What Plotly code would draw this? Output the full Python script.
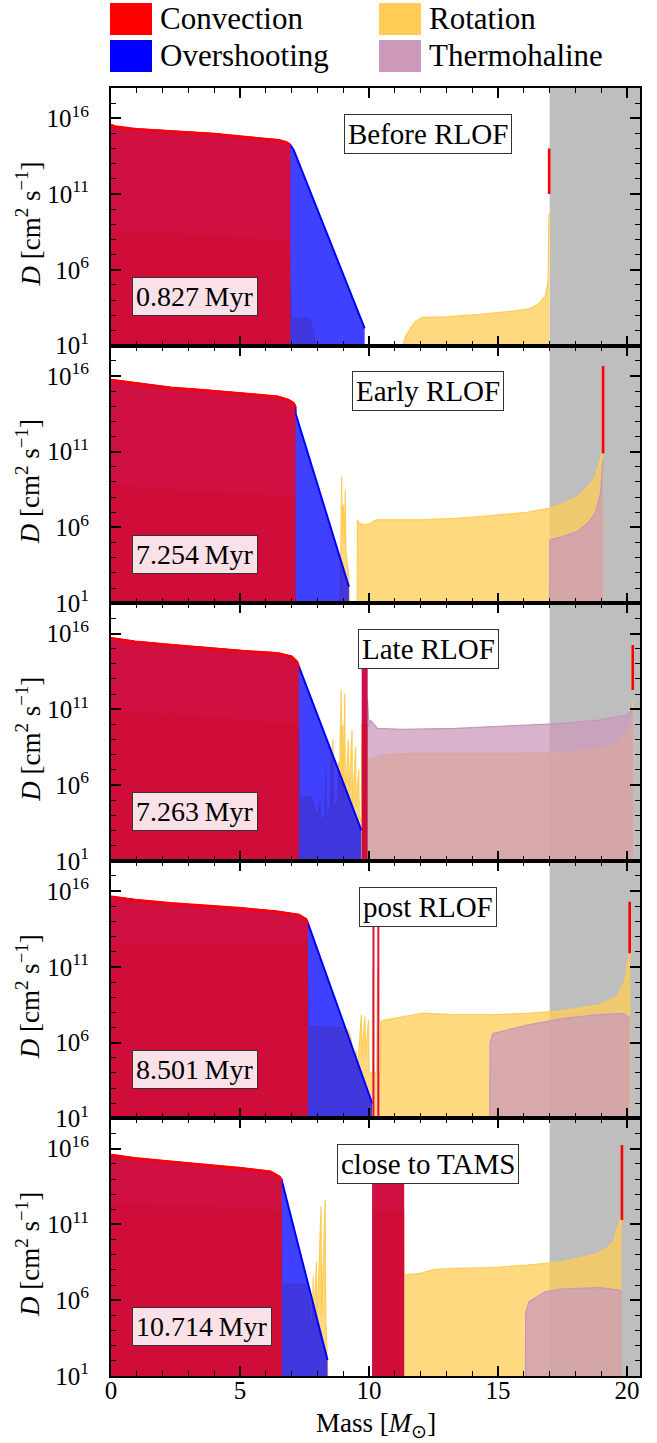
import plotly.graph_objects as go
from plotly.subplots import make_subplots

FONT = "Liberation Serif"

# ---------------- data (log10 D in cm^2/s vs mass coordinate in Msun) ----------------
TITLES = ["Before RLOF", "Early RLOF", "Late RLOF", "post RLOF", "close to TAMS"]
AGES = ["0.827", "7.254", "7.263", "8.501", "10.714"]
GRAY_START = 17.0
X_MAX = 20.5

# Panel 1 -------------------------------------------------------------
P1_CORE_M = [0, 0.15, 1, 2, 3, 4, 5, 6, 6.5, 6.8, 6.95]
P1_CORE_LOGD = [15.56, 15.45, 15.27, 15.18, 15.07, 14.96, 14.79, 14.65, 14.55, 14.41, 14.24]
P1_SHELL_M = []
P1_SHELL_LOGD = []
P1_OVS_TAIL_M = [7.08, 9.83]
P1_OVS_TAIL_LOGD = [13.91, 2.14]
P1_ROT_M = [0, 3.5, 6.9, 7.0, 7.08, 7.6, 7.75, 7.85, 7.92, None,
            11.32, 11.41, 11.6, 11.79, 12.05, 13.0, 14.3, 15.6, 16.25, 16.6, 16.85, 16.94, 16.97, 16.99]
P1_ROT_LOGD = [8.52, 8.36, 7.85, 2.8, 2.8, 2.8, 2.6, 1.8, 1.0, None,
               1.1, 1.59, 2.14, 2.58, 2.86, 2.9, 3.06, 3.28, 3.45, 3.8, 4.34, 5.33, 9.7, 9.7]
P1_THM_M = []
P1_THM_LOGD = []
P1_THIN_M = []
P1_THIN_LOGD = []
P1_SURF = [16.98, 11.0, 14.0]

# Panel 2 -------------------------------------------------------------
P2_CORE_M = [0, 0.93, 2.3, 3.7, 5.07, 6.45, 6.87, 7.08, 7.15]
P2_CORE_LOGD = [15.73, 15.51, 15.22, 15.03, 14.85, 14.63, 14.41, 14.19, 13.93]
P2_SHELL_M = []
P2_SHELL_LOGD = []
P2_OVS_TAIL_M = [7.16, 9.22]
P2_OVS_TAIL_LOGD = [13.49, 2.09]
P2_ROT_M = [0, 3.7, 7.14, 7.16, None,
            8.88, 8.92, 8.94, 8.96, 9.0, 9.04, 9.08, 9.1, 9.14, 9.2, 9.25, None,
            9.54, 9.55, 9.6, 9.7, 9.8, 9.9, 10.05, 10.2, 10.3, 12.0, 13.37, 14.75, 16.13,
            16.96, 17.5, 18.06, 18.48, 18.76, 18.97, 19.03, 19.07]
P2_ROT_LOGD = [8.8, 8.36, 8.03, 1.0, None,
               1.0, 5.0, 9.35, 5.5, 7.5, 5.0, 8.5, 4.5, 4.0, 3.0, 1.0, None,
               1.0, 6.5, 6.3, 6.2, 6.15, 6.2, 6.25, 6.45, 6.5, 6.5, 6.6, 6.78, 7.0,
               7.26, 7.55, 8.0, 8.66, 9.32, 10.42, 10.86, 11.2]
P2_THM_M = [17.0, 17.01, 17.5, 18.06, 18.48, 18.76, 18.97, 19.06]
P2_THM_LOGD = [1.0, 5.17, 5.39, 5.72, 6.27, 6.93, 8.25, 10.4]
P2_THIN_M = []
P2_THIN_LOGD = []
P2_SURF = [19.07, 10.9, 16.65]

# Panel 3 -------------------------------------------------------------
P3_CORE_M = [0, 0.93, 2.3, 3.7, 5.07, 6.45, 7.0, 7.2, 7.28]
P3_CORE_LOGD = [15.68, 15.46, 15.24, 15.02, 14.84, 14.69, 14.47, 14.14, 13.81]
P3_SHELL_M = [9.72, 9.74, 9.8, 9.88, 9.94]
P3_SHELL_LOGD = [14.69, 14.5, 14.36, 14.3, 14.25]
P3_OVS_TAIL_M = [7.31, 9.7]
P3_OVS_TAIL_LOGD = [13.7, 3.03]
P3_ROT_M = [0, 3.7, 7.0, 7.28, 7.31, 7.7, 7.8, 7.9, 8.0, 8.1, 8.12, 8.3, 8.32, 8.34,
            8.5, 8.52, 8.54, 8.6, 8.62, 8.8, 8.82, 8.84, 8.92, 8.94, 8.98, 9.0, 9.06, 9.08,
            9.2, 9.22, 9.34, 9.36, 9.48, 9.5, 9.6, 9.62, 9.7, 9.72, 9.93, 9.94, 10.5, 11.5,
            13.5, 16.0, 18.0, 19.5, 20.1, 20.2, 20.23]
P3_ROT_LOGD = [10.95, 10.5, 10.07, 10.0, 5.23, 5.2, 5.0, 4.4, 3.8, 5.0, 3.5, 4.0, 7.0, 4.0,
               4.5, 8.5, 4.5, 9.0, 4.5, 5.0, 7.5, 5.0, 12.27, 5.0, 10.0, 5.0, 12.05, 5.0,
               9.0, 5.0, 9.63, 4.5, 8.53, 4.5, 7.0, 4.0, 3.5, 10.0, 10.0, 7.65, 7.98, 8.09,
               8.09, 8.09, 8.2, 8.53, 9.63, 10.73, 11.5]
P3_THM_M = [9.94, 9.96, 10.0, 10.05, 10.33, 11.3, 13.37, 16.13, 17.5, 18.9, 20.0, 20.2, 20.23]
P3_THM_LOGD = [11.61, 10.5, 9.85, 10.29, 9.74, 9.67, 9.74, 9.96, 10.07, 10.29, 10.62, 10.95, 11.0]
P3_THIN_M = []
P3_THIN_LOGD = []
P3_SURF = [20.22, 12.27, 15.24]

# Panel 4 -------------------------------------------------------------
P4_CORE_M = [0, 0.93, 2.3, 3.7, 5.07, 6.45, 7.28, 7.56, 7.63]
P4_CORE_LOGD = [15.63, 15.41, 15.19, 15.02, 14.86, 14.64, 14.42, 14.14, 13.88]
P4_SHELL_M = []
P4_SHELL_LOGD = []
P4_OVS_TAIL_M = [7.66, 10.12]
P4_OVS_TAIL_LOGD = [13.76, 2.0]
P4_ROT_M = [0, 3.7, 7.6, 7.66, 9.0, 9.2, 9.3, 9.38, 9.42, 9.5, 9.55, 9.7, 9.72, 9.84, 9.86,
            9.98, 10.0, 10.14, 10.16, 10.18, 10.3, 10.33, 10.35, 10.44, 10.46, 10.6, 11.9,
            12.1, 13.37, 14.75, 16.13, 17.5, 18.9, 19.6, 19.93, 20.07, 20.13]
P4_ROT_LOGD = [12.44, 12.5, 12.55, 7.05, 7.0, 6.8, 6.3, 5.0, 3.5, 5.5, 4.0, 7.82, 5.0, 7.71, 5.0,
               7.5, 4.0, 4.0, 11.0, 4.0, 4.0, 10.8, 4.0, 4.0, 7.38, 7.49, 7.9,
               7.95, 7.84, 7.84, 7.93, 8.1, 8.48, 9.03, 10.13, 11.89, 12.5]
P4_THM_M = [14.68, 14.69, 14.8, 16.13, 17.5, 18.9, 19.86, 20.07, 20.1]
P4_THM_LOGD = [1.0, 5.95, 6.6, 7.15, 7.59, 7.85, 7.92, 7.7, 7.5]
P4_THIN_M = [10.17, 10.36]
P4_THIN_LOGD = [14.43, 14.14]
P4_SURF = [20.1, 11.9, 15.3]

# Panel 5 -------------------------------------------------------------
P5_CORE_M = [0, 0.93, 2.3, 3.7, 5.07, 6.18, 6.52, 6.62]
P5_CORE_LOGD = [15.58, 15.36, 15.14, 14.92, 14.7, 14.48, 14.15, 13.93]
P5_SHELL_M = [10.12, 10.6, 11.15, 11.3, 11.36]
P5_SHELL_LOGD = [14.81, 14.7, 14.59, 14.37, 13.93]
P5_OVS_TAIL_M = [6.63, 8.39]
P5_OVS_TAIL_LOGD = [13.82, 2.05]
P5_ROT_M = [0, 3.7, 6.6, 6.63, 7.5, 7.6, 7.7, 7.75, 7.8, 7.84, 7.86, 7.96, 7.98, 8.14, 8.16,
            8.28, 8.3, 8.32, 8.4, None,
            10.12, 11.35, 11.36, 11.98, 12.54, 13.37, 14.75, 16.13, 17.5, 18.9, 19.45, 19.72, 19.79]
P5_ROT_LOGD = [12.4, 12.2, 11.95, 7.07, 7.07, 6.8, 5.5, 4.0, 4.0, 7.56, 4.0, 8.5, 4.0, 12.18, 5.0,
               12.62, 12.62, 5.0, 1.0, None,
               11.95, 11.95, 7.66, 7.77, 8.03, 8.1, 8.16, 8.32, 8.54, 9.09, 9.75, 11.29, 11.5]
P5_THM_M = [16.06, 16.07, 16.2, 16.82, 17.5, 18.9, 19.72, 19.8]
P5_THM_LOGD = [1.0, 5.13, 5.9, 6.56, 6.74, 6.83, 6.67, 6.5]
P5_THIN_M = []
P5_THIN_LOGD = []
P5_SURF = [19.8, 11.3, 16.24]

# ---------------- styling ----------------
C_CONV, C_OVS, C_ROT, C_THM = "#FF0000", "#0000FF", "#FFCC55", "#CC99BB"
F_CONV = "rgba(255,0,0,0.75)"
F_OVS = "rgba(0,0,255,0.75)"
F_ROT = "rgba(255,204,85,0.75)"
F_THM = "rgba(204,153,187,0.75)"
GRAY = "#BEBEBE"

panels = [
    (P1_CORE_M, P1_CORE_LOGD, P1_SHELL_M, P1_SHELL_LOGD, P1_OVS_TAIL_M, P1_OVS_TAIL_LOGD,
     P1_ROT_M, P1_ROT_LOGD, P1_THM_M, P1_THM_LOGD, P1_THIN_M, P1_THIN_LOGD, P1_SURF),
    (P2_CORE_M, P2_CORE_LOGD, P2_SHELL_M, P2_SHELL_LOGD, P2_OVS_TAIL_M, P2_OVS_TAIL_LOGD,
     P2_ROT_M, P2_ROT_LOGD, P2_THM_M, P2_THM_LOGD, P2_THIN_M, P2_THIN_LOGD, P2_SURF),
    (P3_CORE_M, P3_CORE_LOGD, P3_SHELL_M, P3_SHELL_LOGD, P3_OVS_TAIL_M, P3_OVS_TAIL_LOGD,
     P3_ROT_M, P3_ROT_LOGD, P3_THM_M, P3_THM_LOGD, P3_THIN_M, P3_THIN_LOGD, P3_SURF),
    (P4_CORE_M, P4_CORE_LOGD, P4_SHELL_M, P4_SHELL_LOGD, P4_OVS_TAIL_M, P4_OVS_TAIL_LOGD,
     P4_ROT_M, P4_ROT_LOGD, P4_THM_M, P4_THM_LOGD, P4_THIN_M, P4_THIN_LOGD, P4_SURF),
    (P5_CORE_M, P5_CORE_LOGD, P5_SHELL_M, P5_SHELL_LOGD, P5_OVS_TAIL_M, P5_OVS_TAIL_LOGD,
     P5_ROT_M, P5_ROT_LOGD, P5_THM_M, P5_THM_LOGD, P5_THIN_M, P5_THIN_LOGD, P5_SURF),
]

fig = make_subplots(rows=5, cols=1, shared_xaxes=True, vertical_spacing=0)

W, H = 657, 1443
ML, MR, MT, MB = 111, 17, 88, 67
pw, ph = W - ML - MR, H - MT - MB


def px(x):
    return (x - ML) / pw


def py(y):
    return (H - MB - y) / ph


def segments(m, logd):
    segs, xs, ys = [], [], []
    for a, b in zip(m, logd):
        if a is None:
            if xs:
                segs.append((xs, ys))
            xs, ys = [], []
        else:
            xs.append(a)
            ys.append(10 ** b)
    if xs:
        segs.append((xs, ys))
    return segs


def add_area(row, m, logd, fill, line, width):
    for xs, ys in segments(m, logd):
        fig.add_trace(go.Scatter(x=xs, y=ys, mode="lines", fill="tozeroy", fillcolor=fill,
                                 line=dict(color=line, width=width), showlegend=False,
                                 hoverinfo="skip"), row=row, col=1)


def add_vline(row, m, lo, hi, color, width):
    fig.add_trace(go.Scatter(x=[m, m], y=[10 ** lo, 10 ** hi], mode="lines",
                             line=dict(color=color, width=width), showlegend=False,
                             hoverinfo="skip"), row=row, col=1)


for i, p in enumerate(panels):
    row = i + 1
    core_m, core_d, sh_m, sh_d, tail_m, tail_d, rot_m, rot_d, thm_m, thm_d, thin_m, thin_d, surf = p
    conv_m = core_m + ([None] + sh_m if sh_m else [])
    conv_d = core_d + ([None] + sh_d if sh_d else [])
    ovs_m = core_m + tail_m + ([None] + sh_m if sh_m else [])
    ovs_d = core_d + tail_d + ([None] + sh_d if sh_d else [])
    add_area(row, rot_m, rot_d, F_ROT, C_ROT, 1.2)
    add_area(row, thm_m, thm_d, F_THM, "#C497BD", 1.2)
    add_area(row, ovs_m, ovs_d, F_OVS, C_OVS, 2)
    add_area(row, conv_m, conv_d, F_CONV, C_CONV, 2.6)
    for tm, td in zip(thin_m, thin_d):
        add_vline(row, tm, 1.0, td, "#E0103A", 2)
    add_vline(row, surf[0], surf[1], surf[2], C_CONV, 2.6)

    xr = "x" if row == 1 else f"x{row}"
    yr = "y" if row == 1 else f"y{row}"
    fig.add_shape(type="rect", xref=xr, yref=f"{yr} domain", x0=GRAY_START, x1=X_MAX, y0=0, y1=1,
                  fillcolor=GRAY, line=dict(width=0), layer="below")
    fig.add_annotation(xref=xr, yref=f"{yr} domain", x=12.3, y=0.9, text=TITLES[i],
                       showarrow=False, font=dict(family=FONT, size=29, color="black"),
                       bgcolor="white", bordercolor="#333333", borderwidth=1, borderpad=3)
    fig.add_annotation(xref=xr, yref=f"{yr} domain", x=0.8, y=0.115, xanchor="left",
                       text=f"{AGES[i]}\u2009Myr", showarrow=False,
                       font=dict(family=FONT, size=28, color="black"),
                       bgcolor="rgba(255,255,255,0.88)", bordercolor="#333333", borderwidth=1,
                       borderpad=3)
    # y-axis title, placed at a fixed distance from the frame
    fig.add_annotation(xref="paper", yref=f"{yr} domain", x=px(28), y=0.47, xanchor="center",
                       yanchor="middle", textangle=-90, showarrow=False,
                       text="<i>D</i> [cm<sup>2</sup> s<sup>\u22121</sup>]",
                       font=dict(family=FONT, size=27, color="black"))

    fig.update_yaxes(type="log", range=[1, 18], automargin=False,
                     tickvals=[1e1, 1e6, 1e11, 1e16],
                     ticktext=["10<sup>1</sup>", "10<sup>6</sup>", "10<sup>11</sup>", "10<sup>16</sup>"],
                     ticks="inside", ticklen=10, tickwidth=1.5, tickcolor="black",
                     minor=dict(tickvals=[10 ** k for k in range(1, 19)], ticks="inside",
                                ticklen=5, tickwidth=1.2, tickcolor="black"),
                     showline=True, linewidth=2, linecolor="black", mirror="allticks",
                     showgrid=False, zeroline=False,
                     tickfont=dict(family=FONT, size=25, color="black"),
                     ticklabelstandoff=15,
                     row=row, col=1)
    fig.update_xaxes(range=[0, X_MAX], tickvals=[0, 5, 10, 15, 20], automargin=False,
                     ticks="inside", ticklen=10, tickwidth=1.5, tickcolor="black",
                     minor=dict(dtick=1, ticks="inside", ticklen=5, tickwidth=1.2, tickcolor="black"),
                     showline=True, linewidth=2, linecolor="black", mirror="allticks",
                     showgrid=False, zeroline=False, showticklabels=(row == 5),
                     tickfont=dict(family=FONT, size=25, color="black"),
                     ticklabelstandoff=-9,
                     row=row, col=1)

# ---------------- legend (manual, 2 x 2) and x title ----------------
LEG_NAMES = ["Convection", "Overshooting", "Rotation", "Thermohaline"]
LEG_COLORS = [C_CONV, C_OVS, C_ROT, C_THM]

for k, (name, col) in enumerate(zip(LEG_NAMES, LEG_COLORS)):
    c, r = k // 2, k % 2
    x0 = 110 + c * 269
    y0 = 3 + r * 37
    fig.add_shape(type="rect", xref="paper", yref="paper", x0=px(x0), x1=px(x0 + 42),
                  y0=py(y0 + 32), y1=py(y0), fillcolor=col, line=dict(width=0))
    fig.add_annotation(xref="paper", yref="paper", x=px(x0 + 48), y=py(y0 + 16), xanchor="left",
                       yanchor="middle", text=name, showarrow=False,
                       font=dict(family=FONT, size=31, color="black"))

fig.add_annotation(xref="paper", yref="paper", x=0.5, y=py(1443), xanchor="center",
                   yanchor="bottom", text="Mass [<i>M</i><sub>\u2299</sub>]", showarrow=False,
                   font=dict(family=FONT, size=27, color="black"), borderpad=0)

fig.update_layout(width=W, height=H, margin=dict(l=ML, r=MR, t=MT, b=MB, autoexpand=False),
                  plot_bgcolor="white", paper_bgcolor="white", showlegend=False)

fig.write_html("out.html", config={"displayModeBar": False},
               post_script="document.body.style.margin='0';document.body.style.overflow='hidden';")
